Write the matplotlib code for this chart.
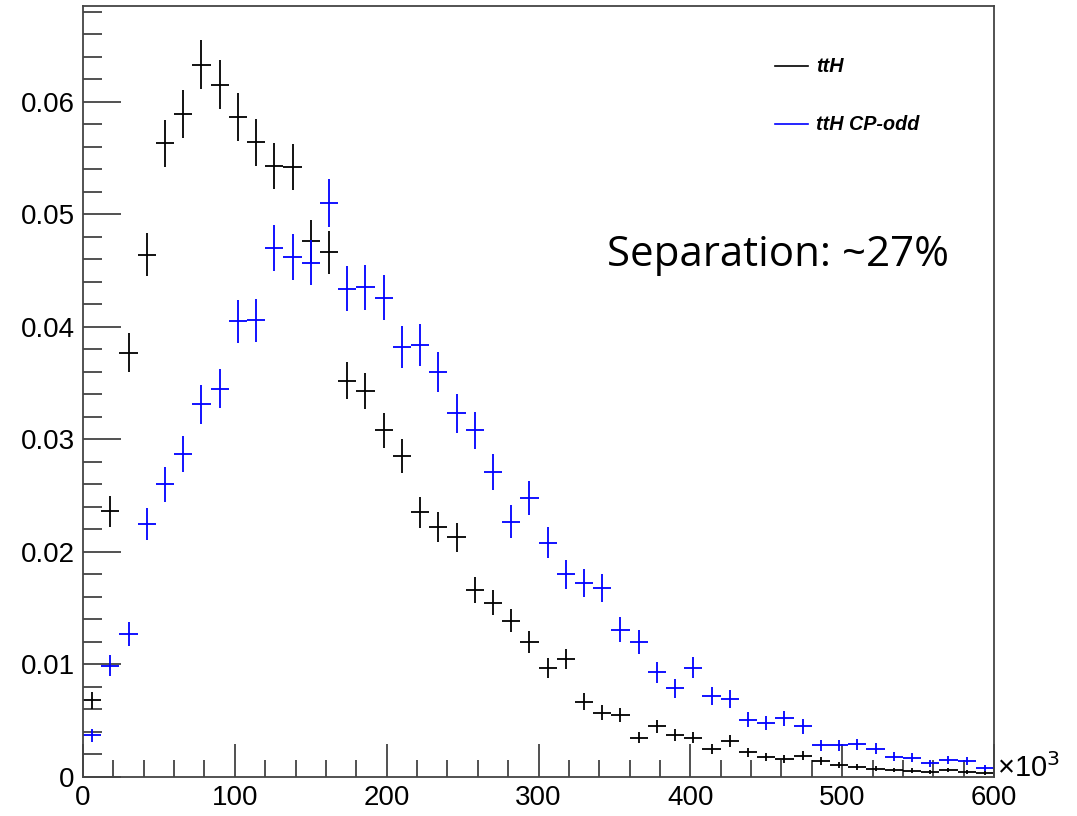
import matplotlib
matplotlib.use("Agg")
import matplotlib.pyplot as plt
from matplotlib.lines import Line2D
from matplotlib.ticker import MultipleLocator, FuncFormatter
import numpy as np

# Histogram binning: 50 bins over [0, 600] (x in units of 10^3)
bin_lo, bin_hi, n_bins = 0.0, 600.0, 50
edges = np.linspace(bin_lo, bin_hi, n_bins + 1)
centers = 0.5 * (edges[:-1] + edges[1:])
half_width = 0.5 * (edges[1] - edges[0])

# Normalised bin contents, SM ttH
tth_vals = [0.0068, 0.0236, 0.0377, 0.0464, 0.0563, 0.0589, 0.0633, 0.0615, 0.0586, 0.0564,
            0.0543, 0.0542, 0.0476, 0.0466, 0.0352, 0.0343, 0.0308, 0.0285, 0.0235, 0.0222,
            0.0213, 0.0166, 0.0155, 0.0139, 0.0120, 0.0097, 0.0105, 0.0067, 0.0057, 0.0055,
            0.0035, 0.0045, 0.0037, 0.0035, 0.0025, 0.0032, 0.0022, 0.0018, 0.0016, 0.0019,
            0.00145, 0.00107, 0.00086, 0.00074, 0.00062, 0.00056, 0.00045, 0.00062, 0.00047, 0.00036]
tth_errs = [0.00075, 0.00135, 0.00174, 0.00193, 0.00209, 0.00214, 0.00221, 0.00218, 0.00213, 0.00209,
            0.00205, 0.00205, 0.00192, 0.00190, 0.00165, 0.00163, 0.00154, 0.00149, 0.00135, 0.00131,
            0.00128, 0.00113, 0.00110, 0.00104, 0.00096, 0.00087, 0.00090, 0.00072, 0.00066, 0.00065,
            0.00052, 0.00059, 0.00054, 0.00052, 0.00044, 0.00050, 0.00041, 0.00037, 0.00035, 0.00038,
            0.00034, 0.00029, 0.00026, 0.00024, 0.00022, 0.00021, 0.00019, 0.00022, 0.00019, 0.00017]

# Normalised bin contents, CP-odd ttH
cpodd_vals = [0.0037, 0.0099, 0.0127, 0.0225, 0.0260, 0.0287, 0.0331, 0.0345, 0.0405, 0.0406,
              0.0470, 0.0462, 0.0457, 0.0510, 0.0434, 0.0435, 0.0426, 0.0382, 0.0384, 0.0360,
              0.0323, 0.0308, 0.0271, 0.0227, 0.0248, 0.0208, 0.0180, 0.0172, 0.0168, 0.0131,
              0.0120, 0.0093, 0.0079, 0.0097, 0.0072, 0.0069, 0.0051, 0.0048, 0.0052, 0.0045,
              0.0028, 0.0028, 0.0029, 0.0025, 0.0018, 0.0017, 0.0012, 0.0015, 0.0014, 0.0008]
cpodd_errs = [0.00058, 0.00095, 0.00107, 0.00143, 0.00153, 0.00161, 0.00173, 0.00176, 0.00191, 0.00191,
              0.00206, 0.00204, 0.00203, 0.00215, 0.00198, 0.00199, 0.00197, 0.00186, 0.00186, 0.00180,
              0.00171, 0.00166, 0.00157, 0.00144, 0.00150, 0.00137, 0.00127, 0.00124, 0.00123, 0.00109,
              0.00104, 0.00092, 0.00084, 0.00094, 0.00081, 0.00079, 0.00068, 0.00066, 0.00068, 0.00064,
              0.00051, 0.00051, 0.00051, 0.00048, 0.00040, 0.00039, 0.00032, 0.00037, 0.00036, 0.00027]

series_labels = ["ttH", "ttH CP-odd"]
series_colors = ["#000000", "#0000ff"]

W, H = 1077, 816
fig = plt.figure(figsize=(W / 100, H / 100), dpi=100)
ax = fig.add_axes([83 / W, (H - 777) / H, (994 - 83) / W, (777 - 6) / H])

for vals, errs, col in [(tth_vals, tth_errs, series_colors[0]),
                        (cpodd_vals, cpodd_errs, series_colors[1])]:
    ax.errorbar(centers, vals, xerr=half_width, yerr=errs, fmt="none",
                ecolor=col, elinewidth=1.3, capsize=0)

ax.set_xlim(bin_lo, bin_hi)
ax.set_ylim(0, 0.0685)

ax.xaxis.set_major_locator(MultipleLocator(100))
ax.xaxis.set_minor_locator(MultipleLocator(20))
ax.yaxis.set_major_locator(MultipleLocator(0.01))
ax.yaxis.set_minor_locator(MultipleLocator(0.002))
ax.yaxis.set_major_formatter(FuncFormatter(lambda v, p: "0" if abs(v) < 1e-9 else f"{v:.2f}"))

tick_font = "Liberation Sans"
ax.tick_params(axis="both", which="both", direction="in", top=False, right=False,
               width=1.2, color="#333333")
ax.tick_params(axis="y", which="major", length=27, pad=6)
ax.tick_params(axis="y", which="minor", length=14)
ax.tick_params(axis="x", which="major", length=24, pad=6)
ax.tick_params(axis="x", which="minor", length=12)
for lab in ax.get_xticklabels() + ax.get_yticklabels():
    lab.set_fontfamily(tick_font)
    lab.set_fontsize(20)

for sp in ax.spines.values():
    sp.set_linewidth(1.3)
    sp.set_color("#444444")

# Axis exponent marker
fig.text(997 / W, (H - 768) / H, "×10$^{3}$", fontsize=21, family=tick_font,
         ha="left", va="center")

# Legend
leg_font = dict(family=tick_font, weight="bold", style="italic", fontsize=14.2)
for i, (lab, col) in enumerate(zip(series_labels, series_colors)):
    ypix = 66 + i * 58
    yf = (H - ypix) / H
    fig.add_artist(Line2D([775 / W, 808 / W], [yf, yf], color=col, lw=1.2))
    fig.text(816 / W, yf, lab, ha="left", va="center", **leg_font)

# Annotation
fig.text(607 / W, (H - 255) / H, "Separation: ~27%", fontsize=30.3, family="Open Sans",
         ha="left", va="center")

fig.savefig("out.png", dpi=100)
